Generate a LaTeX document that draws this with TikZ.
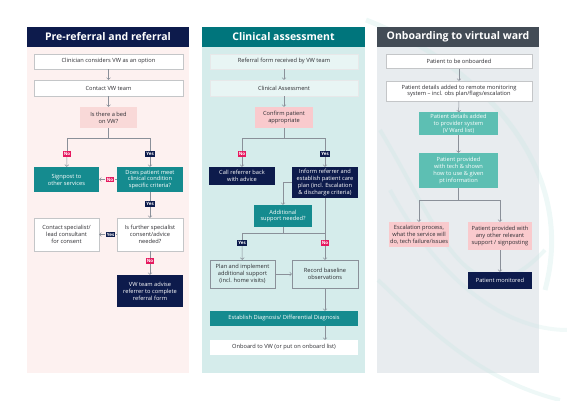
\documentclass[tikz,border=0pt]{standalone}
\usepackage{fontspec}
\setmainfont{Open Sans}
\usetikzlibrary{arrows.meta,positioning}

\definecolor{vwnavy}{RGB}{13,27,76}
\definecolor{vwteal}{RGB}{0,117,124}
\definecolor{vwslate}{RGB}{67,76,86}
\definecolor{pinkbg}{RGB}{253,241,240}
\definecolor{tealbg}{RGB}{213,236,235}
\definecolor{greybg}{RGB}{232,236,239}
\definecolor{tealbox}{RGB}{21,139,143}
\definecolor{lightteal}{RGB}{93,191,179}
\definecolor{pinkbox}{RGB}{249,202,205}
\definecolor{palepink}{RGB}{249,217,216}
\definecolor{nored}{RGB}{230,25,95}
\definecolor{linegrey}{RGB}{138,144,153}
\definecolor{edgegrey}{RGB}{196,198,200}
\definecolor{textgrey}{RGB}{45,45,50}
\definecolor{swoosh}{RGB}{200,232,229}

\tikzset{
  box/.style={rectangle, inner sep=1pt, align=center, text=textgrey,
    font=\fontsize{5.7}{6.9}\selectfont},
  sz/.style 2 args={minimum width=#1pt, minimum height=#2pt},
  plainbox/.style={box, fill=white, draw=edgegrey, line width=0.4pt},
  ghostbox/.style={box, fill=white!45!tealbg, draw=white!60!edgegrey, line width=0.4pt},
  linebox/.style={box, draw=linegrey, line width=0.4pt},
  navybox/.style={box, fill=vwnavy, text=white},
  tealfill/.style={box, fill=tealbox, text=white},
  lighttealfill/.style={box, fill=lightteal, text=white},
  pinkfill/.style={box, fill=pinkbox},
  title/.style={rectangle, text=white, minimum width=162pt, minimum height=20pt,
    font=\fontsize{10.5}{12}\selectfont\bfseries},
  yes/.style={rectangle, fill=vwnavy, text=white, inner sep=1.2pt,
    font=\fontsize{4.5}{5}\selectfont\bfseries},
  no/.style={yes, fill=nored},
  flow/.style={draw=linegrey, line width=0.5pt},
  arr/.style={flow, -{Straight Barb[length=1.8pt, width=4pt]}}
}

\begin{document}
\begin{tikzpicture}[x=1pt, y=-1pt]
\useasboundingbox (0,0) rectangle (567,401);

% panels
\fill [pinkbg] (27,47) rectangle (189,373);
\fill [tealbg] (202,47) rectangle (365,373);
\fill [greybg] (377,47) rectangle (539,373);
\draw [swoosh, line width=5pt, opacity=0.3] (366,20) .. controls (470,60) and (580,160) .. (545,290);
\draw [swoosh, line width=4pt, opacity=0.3] (380,130) .. controls (440,230) and (470,330) .. (545,250);
\draw [swoosh, line width=4pt, opacity=0.3] (378,280) .. controls (430,330) and (480,380) .. (560,400);
\draw [swoosh, line width=4pt, opacity=0.25] (390,190) .. controls (450,300) and (520,330) .. (567,330);
\node [title, fill=vwnavy](t1) at (108,37) {Pre-referral and referral};
\node [title, fill=vwteal, minimum width=163pt](t2) at (283.5,37) {Clinical assessment};
\node [title, fill=vwslate](t3) at (458,37) {Onboarding to virtual ward};

% pre-referral and referral
\node [plainbox, sz={149}{15}](clin) at (108.5,61.5) {Clinician considers VW as an option};
\node [plainbox, sz={149}{16}](contact) at (108.5,88) {Contact VW team};
\node [box, fill=palepink, sz={57}{21}](bed) at (108.5,117.5) {Is there a bed\\on VW?};
\coordinate (br1) at (108.5,138);
\node [no](no1) at (67,154) {No};
\node [yes](yes1) at (150,154) {Yes};
\node [tealfill, sz={65}{25}](signpost) at (66.5,179.5) {Signpost to\\other services};
\node [tealfill, sz={66}{25}](meet) at (150,179.5) {Does patient meet\\clinical condition\\specific criteria?};
\node [no](no2) at (110,179.5) {No};
\node [yes](yes2) at (150,204) {Yes};
\node [plainbox, sz={66}{33}](further) at (150,234.5) {Is further specialist\\consent/advice\\needed?};
\node [plainbox, sz={65}{33}](specialist) at (66.5,234.5) {Contact specialist/\\lead consultant\\for consent};
\node [yes](yes3) at (110.5,234.5) {Yes};
\node [no](no3) at (150,261) {No};
\node [navybox, sz={66}{32}](advise) at (150,291) {VW team advise\\referrer to complete\\referral form};

\draw [arr] (clin) -- (contact);
\draw [arr] (contact) -- (bed);
\draw [flow] (bed) -- (br1) -| (no1);
\draw [flow] (br1) -| (yes1);
\draw [arr] (no1) -- (signpost);
\draw [arr] (yes1) -- (meet);
\draw [flow] (meet) -- (no2);
\draw [arr] (no2) -- (signpost);
\draw [flow] (meet) -- (yes2);
\draw [arr] (yes2) -- (further);
\draw [flow] (further) -- (yes3);
\draw [arr] (yes3) -- (specialist);
\draw [flow] (further) -- (no3);
\draw [arr] (no3) -- (advise);

% clinical assessment
\node [ghostbox, sz={148}{15}](referral) at (284,61.5) {Referral form received by VW team};
\node [ghostbox, sz={148}{16}](clinass) at (284,88) {Clinical Assessment};
\node [pinkfill, sz={58}{21}](confirm) at (284,117.5) {Confirm patient\\appropriate};
\coordinate (br2) at (284,138);
\node [no](no4) at (242,154) {No};
\node [yes](yes4) at (325,154) {Yes};
\node [navybox, sz={66}{18}](call) at (242,176) {Call referrer back\\with advice};
\node [navybox, sz={66}{31}](inform) at (325,182.5) {Inform referrer and\\establish patient care\\plan (incl. Escalation\\\& discharge criteria)};
\node [tealfill, sz={58}{22}](additional) at (283,216) {Additional\\support needed?};
\coordinate (br3) at (283,233);
\node [yes](yes5) at (242,243) {Yes};
\node [no](no5) at (325,243) {No};
\node [linebox, sz={65}{28}](plan) at (242.5,274) {Plan and implement\\additional support\\(incl. home visits)};
\node [linebox, sz={66}{28}](record) at (325,274) {Record baseline\\observations};
\node [tealfill, sz={148}{15}](establish) at (284,318.5) {Establish Diagnosis/ Differential Diagnosis};
\node [box, fill=white, sz={148}{15}](onboard) at (284,347.5) {Onboard to VW (or put on onboard list)};

\draw [arr] (referral) -- (clinass);
\draw [arr] (clinass) -- (confirm);
\draw [flow] (confirm) -- (br2) -| (no4);
\draw [flow] (br2) -| (yes4);
\draw [arr] (no4) -- (call);
\draw [arr] (yes4) -- (inform);
\draw [arr] (inform.west) -| (additional.north);
\draw [flow] (additional) -- (br3) -| (yes5);
\draw [flow] (br3) -| (no5);
\draw [flow] (inform) -- (no5);
\draw [arr] (yes5) -- (plan);
\draw [arr] (no5) -- (record);
\draw [arr] (plan) -- (record);
\draw [arr] (record.south) -- (record.south |- establish.north);
\draw [arr] (record.south |- establish.south) -- (record.south |- onboard.north);

% onboarding to virtual ward
\node [plainbox, sz={146}{14}](tobe) at (459,61.5) {Patient to be onboarded};
\node [plainbox, sz={146}{20}](details) at (459,91) {Patient details added to remote monitoring\\system -- incl. obs plan/flags/escalation};
\node [lighttealfill, sz={79}{22}](provider) at (458.5,123.5) {Patient details added\\to provider system\\(V Ward list)};
\node [lighttealfill, sz={79}{35}](tech) at (458.5,170.5) {Patient provided\\with tech \& shown\\how to use \& given\\pt information};
\coordinate (br4) at (458.5,200);
\node [pinkfill, sz={60}{25}](escal) at (419,234.5) {Escalation process,\\what the service will\\do, tech failure/issues};
\node [pinkfill, sz={64}{28}](other) at (500,236) {Patient provided with\\any other relevant\\support / signposting};
\node [navybox, sz={64}{17}](monitored) at (500,280.5) {Patient monitored};

\draw [arr] (tobe) -- (details);
\draw [arr] (details) -- (provider);
\draw [arr] (provider) -- (tech);
\draw [flow] (tech) -- (br4);
\draw [arr] (br4) -| (escal.north);
\draw [arr] (br4) -| (other.north);
\draw [arr] (other) -- (monitored);
\end{tikzpicture}
\end{document}
